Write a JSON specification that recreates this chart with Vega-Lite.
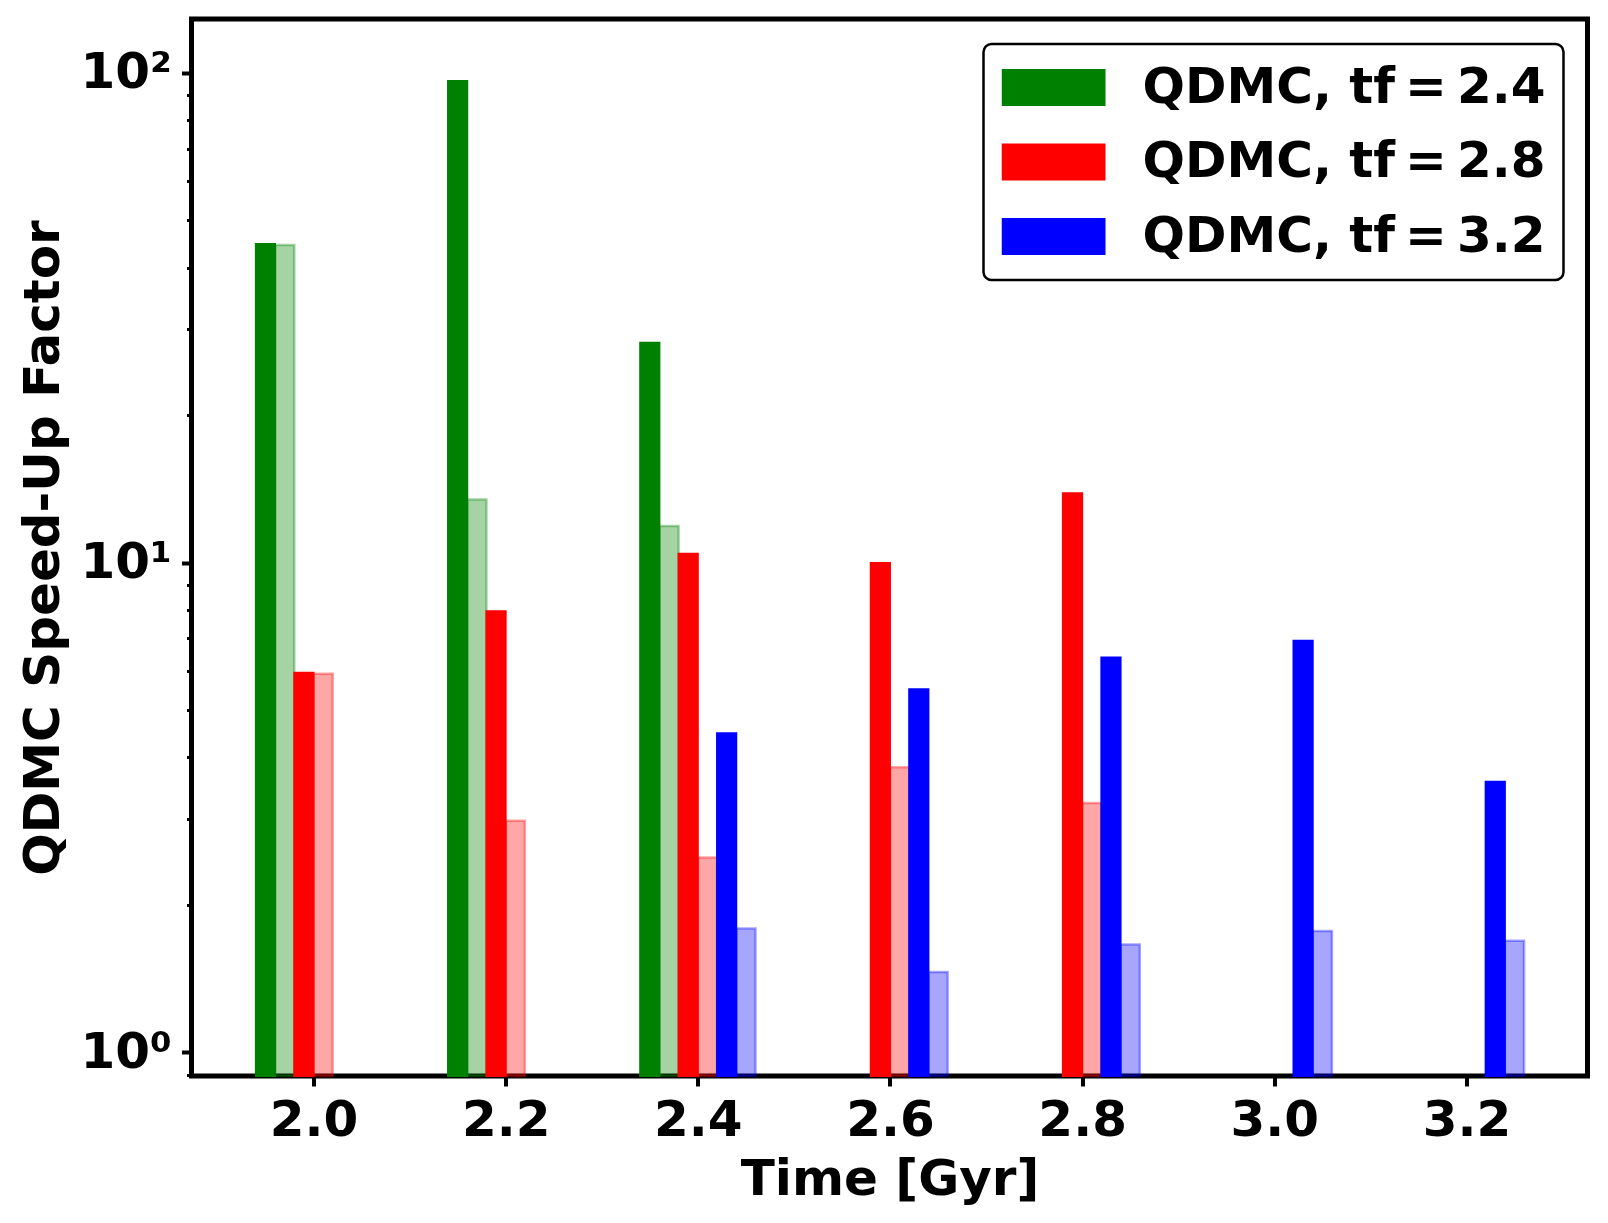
{
  "$schema": "https://vega.github.io/schema/vega-lite/v6.json",
  "description": "QDMC speed-up factor per time, log scale, grouped by final time t_f",
  "autosize": {"type": "none"},
  "padding": {"left": 191.5, "top": 19, "right": 20.5, "bottom": 147},
  "width": 1396,
  "height": 1057,
  "background": "white",
  "data": {
    "values": [
      {"time": 2.0, "tf": "2.4", "variant": "primary", "speedup": 44.7},
      {"time": 2.0, "tf": "2.4", "variant": "secondary", "speedup": 44.5},
      {"time": 2.0, "tf": "2.8", "variant": "primary", "speedup": 5.96},
      {"time": 2.0, "tf": "2.8", "variant": "secondary", "speedup": 5.93},
      {"time": 2.2, "tf": "2.4", "variant": "primary", "speedup": 96.2},
      {"time": 2.2, "tf": "2.4", "variant": "secondary", "speedup": 13.45},
      {"time": 2.2, "tf": "2.8", "variant": "primary", "speedup": 7.95},
      {"time": 2.2, "tf": "2.8", "variant": "secondary", "speedup": 2.97},
      {"time": 2.4, "tf": "2.4", "variant": "primary", "speedup": 28.1},
      {"time": 2.4, "tf": "2.4", "variant": "secondary", "speedup": 11.88},
      {"time": 2.4, "tf": "2.8", "variant": "primary", "speedup": 10.42},
      {"time": 2.4, "tf": "2.8", "variant": "secondary", "speedup": 2.5},
      {"time": 2.4, "tf": "3.2", "variant": "primary", "speedup": 4.48},
      {"time": 2.4, "tf": "3.2", "variant": "secondary", "speedup": 1.79},
      {"time": 2.6, "tf": "2.8", "variant": "primary", "speedup": 9.98},
      {"time": 2.6, "tf": "2.8", "variant": "secondary", "speedup": 3.82},
      {"time": 2.6, "tf": "3.2", "variant": "primary", "speedup": 5.51},
      {"time": 2.6, "tf": "3.2", "variant": "secondary", "speedup": 1.46},
      {"time": 2.8, "tf": "2.8", "variant": "primary", "speedup": 13.85},
      {"time": 2.8, "tf": "2.8", "variant": "secondary", "speedup": 3.23},
      {"time": 2.8, "tf": "3.2", "variant": "primary", "speedup": 6.4},
      {"time": 2.8, "tf": "3.2", "variant": "secondary", "speedup": 1.66},
      {"time": 3.0, "tf": "3.2", "variant": "primary", "speedup": 6.92},
      {"time": 3.0, "tf": "3.2", "variant": "secondary", "speedup": 1.77},
      {"time": 3.2, "tf": "3.2", "variant": "primary", "speedup": 3.57},
      {"time": 3.2, "tf": "3.2", "variant": "secondary", "speedup": 1.69}
    ]
  },
  "transform": [
    {
      "calculate": "datum.time - 0.06 + 0.04 * indexof(['2.4', '2.8', '3.2'], datum.tf) + (datum.variant == 'secondary' ? 0.02 : 0)",
      "as": "x0"
    },
    {"calculate": "datum.x0 + 0.02", "as": "x1"}
  ],
  "layer": [
    {
      "transform": [{"filter": "datum.variant == 'secondary'"}],
      "mark": {"type": "bar", "fillOpacity": 0.35, "strokeOpacity": 0.35, "strokeWidth": 2.5},
      "encoding": {
        "x": {"field": "x0", "type": "quantitative"},
        "x2": {"field": "x1"},
        "y": {
          "field": "speedup",
          "type": "quantitative",
          "axis": {
            "orient": "left",
            "values": [0.9, 2, 3, 4, 5, 6, 7, 8, 9, 20, 30, 40, 50, 60, 70, 80, 90],
            "labels": false,
            "title": null,
            "tickSize": 5,
            "tickWidth": 3
          }
        },
        "y2": {"datum": 0.895},
        "color": {"field": "tf", "type": "nominal"},
        "stroke": {
          "field": "tf",
          "type": "nominal",
          "scale": {"domain": ["2.4", "2.8", "3.2"], "range": ["#008000", "#ff0000", "#0000ff"]},
          "legend": null
        }
      }
    },
    {
      "transform": [{"filter": "datum.variant == 'primary'"}],
      "mark": {"type": "bar", "strokeWidth": 2},
      "encoding": {
        "x": {
          "field": "x0",
          "type": "quantitative",
          "scale": {"domain": [1.873, 3.326], "nice": false, "zero": false},
          "axis": {
            "values": [2.0, 2.2, 2.4, 2.6, 2.8, 3.0, 3.2],
            "format": ".1f",
            "title": "Time [Gyr]",
            "tickSize": 10,
            "tickWidth": 4,
            "labelPadding": 9,
            "titlePadding": 9
          }
        },
        "x2": {"field": "x1"},
        "y": {
          "field": "speedup",
          "type": "quantitative",
          "scale": {"type": "log", "domain": [0.895, 128.7], "nice": false},
          "axis": {
            "orient": "left",
            "values": [1, 10, 100],
            "labelExpr": "datum.value == 1 ? '10⁰' : datum.value == 10 ? '10¹' : '10²'",
            "title": "QDMC Speed-Up Factor",
            "tickSize": 10,
            "tickWidth": 4,
            "labelPadding": 10,
            "titlePadding": 12
          }
        },
        "y2": {"datum": 0.895},
        "color": {
          "field": "tf",
          "type": "nominal",
          "scale": {"domain": ["2.4", "2.8", "3.2"], "range": ["#008000", "#ff0000", "#0000ff"]},
          "legend": {
            "title": null,
            "orient": "top-right",
            "offset": 24.5,
            "labelExpr": "'QDMC, tf\u2009=\u2009' + datum.label",
            "symbolType": "M-1,-0.356L1,-0.356L1,0.356L-1,0.356Z",
            "symbolSize": 10816,
            "symbolStrokeWidth": 0,
            "clipHeight": 51,
            "rowPadding": 23.5,
            "padding": 18,
            "labelOffset": 37,
            "labelFont": "DejaVu Sans",
            "labelFontSize": 50,
            "labelFontWeight": "bold",
            "labelColor": "black",
            "labelLimit": 800,
            "strokeColor": "black",
            "fillColor": "white",
            "cornerRadius": 8,
            "encode": {
              "legend": {"update": {"strokeWidth": {"value": 2.5}}},
              "symbols": {"update": {"fillOpacity": {"value": 1}, "opacity": {"value": 1}, "strokeWidth": {"value": 0}}}
            }
          }
        },
        "stroke": {"field": "tf", "type": "nominal", "legend": null}
      }
    }
  ],
  "resolve": {"axis": {"y": "independent"}},
  "config": {
    "view": {"stroke": "black", "strokeWidth": 5},
    "axis": {
      "grid": false,
      "domain": false,
      "labelFont": "DejaVu Sans",
      "labelFontSize": 50,
      "labelFontWeight": "bold",
      "labelColor": "black",
      "tickColor": "black",
      "titleFont": "DejaVu Sans",
      "titleFontSize": 50,
      "titleFontWeight": "bold",
      "titleColor": "black",
      "labelFlush": false,
      "labelOverlap": false
    }
  }
}
